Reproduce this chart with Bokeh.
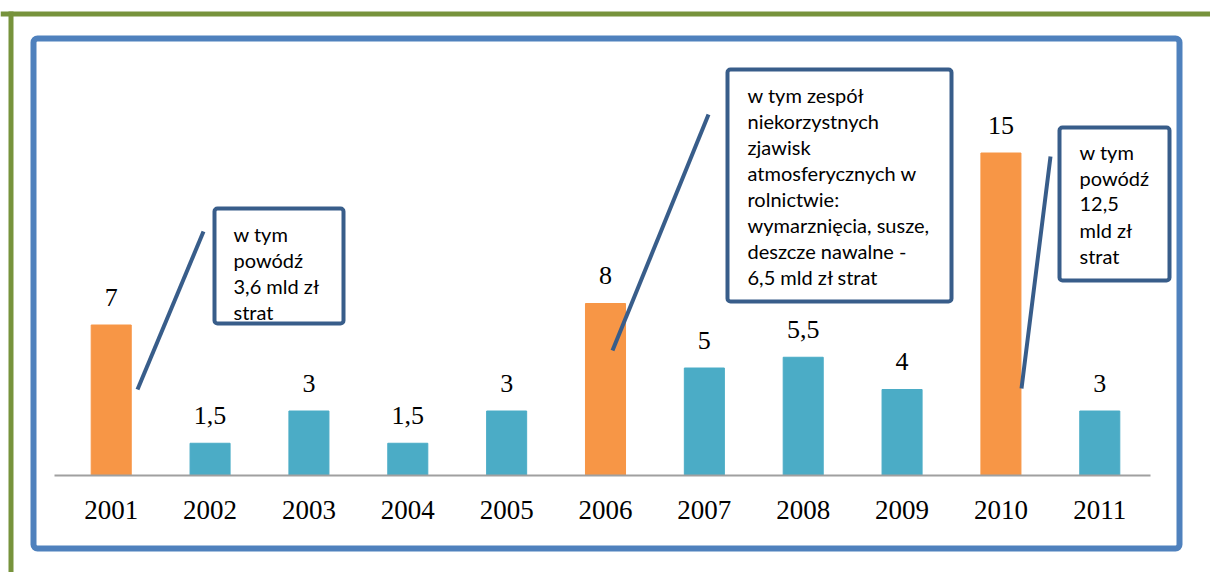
from bokeh.plotting import figure
from bokeh.models import FactorRange, Range1d, BoxAnnotation, Label, ColumnDataSource
from bokeh.embed import file_html
from bokeh.resources import INLINE

# ---- data ----
years = ["2001", "2002", "2003", "2004", "2005", "2006", "2007", "2008", "2009", "2010", "2011"]
losses = [7, 1.5, 3, 1.5, 3, 8, 5, 5.5, 4, 15, 3]
loss_labels = ["7", "1,5", "3", "1,5", "3", "8", "5", "5,5", "4", "15", "3"]
flood_years = ["2001", "2006", "2010"]
callout_1 = [" w tym", "powódź", "3,6 mld zł", "strat"]
callout_2 = ["w tym  zespół", "niekorzystnych", "zjawisk", "atmosferycznych w",
             "rolnictwie:", "wymarznięcia, susze,", "deszcze nawalne -", "6,5 mld zł strat"]
callout_3 = ["w tym", "powódź", "12,5", "mld zł", "strat"]

# ---- style / layout ----
ORANGE = "#f79646"
TEAL = "#4bacc6"
FRAME_BLUE = "#4f81bd"
CALLOUT_BLUE = "#385d8a"
GREEN = "#77933c"

W, H = 1210, 572
BASELINE = 475              # canvas px of the value-0 line
PAD = 0.62                  # category padding
PX_UNIT = 21.5              # px per 1 mld zł
UNIT_PX_X = W / (len(years) + 2 * PAD)


def sx(px):
    """canvas pixel x -> synthetic categorical coordinate"""
    return -PAD + px / UNIT_PX_X


def sy(py):
    """canvas pixel y -> data y"""
    return (BASELINE - py) / PX_UNIT


colors = [ORANGE if y in flood_years else TEAL for y in years]
src = ColumnDataSource(dict(year=years, loss=losses, label=loss_labels, color=colors))

p = figure(width=W, height=H,
           x_range=FactorRange(factors=years, range_padding=PAD, range_padding_units="absolute"),
           y_range=Range1d(sy(H), sy(0)),
           y_axis_type=None, output_backend="svg", toolbar_location=None,
           min_border=0)
p.outline_line_color = None
p.grid.visible = False
p.background_fill_color = "white"
p.border_fill_color = "white"

# decorative frames
p.add_layout(BoxAnnotation(left=sx(0), right=sx(W), top=sy(11), bottom=sy(16),
                           fill_color=GREEN, fill_alpha=1, line_color=None, level="underlay"))
p.add_layout(BoxAnnotation(left=sx(8), right=sx(13), top=sy(11), bottom=sy(H),
                           fill_color=GREEN, fill_alpha=1, line_color=None, level="underlay"))
p.add_layout(BoxAnnotation(left=sx(33), right=sx(1179), top=sy(38), bottom=sy(548),
                           fill_alpha=0, line_color=FRAME_BLUE, line_width=6, line_alpha=1,
                           border_radius=4, level="underlay"))

# bars
p.vbar(x="year", top="loss", width=0.405, color="color", source=src)
p.text(x="year", y="loss", text="label", source=src, y_offset=-28,
       text_align="center", text_baseline="alphabetic",
       text_font={"value": "Liberation Serif"}, text_font_size="26px", text_color="black")

# x axis, drawn inside the frame at value 0
ax = p.xaxis[0]
ax.fixed_location = 0
ax.bounds = (sx(54), sx(1150))
ax.axis_line_color = "#a0a0a0"
ax.axis_line_width = 2
ax.major_tick_line_color = None
ax.minor_tick_line_color = None
ax.major_tick_in = 0
ax.major_tick_out = 0
ax.major_label_standoff = 25
ax.major_label_text_font = "Liberation Serif"
ax.major_label_text_font_size = "27px"
ax.major_label_text_color = "black"

# callouts
def callout(box, line, text_x, first_base, lines):
    l, t, r, b = box
    p.add_layout(BoxAnnotation(left=sx(l), right=sx(r), top=sy(t), bottom=sy(b),
                               fill_color="white", fill_alpha=1, line_color=CALLOUT_BLUE,
                               line_width=4, line_alpha=1, border_radius=3))
    (x0, y0), (x1, y1) = line
    p.segment(x0=[sx(x0)], y0=[sy(y0)], x1=[sx(x1)], y1=[sy(y1)],
              line_color=CALLOUT_BLUE, line_width=4)
    for k, s in enumerate(lines):
        p.add_layout(Label(x=sx(text_x), y=sy(first_base + 26 * k), text=s,
                           text_font="Lato", text_font_size="20px", text_color="black",
                           text_baseline="alphabetic", text_align="left"))

callout((214, 208, 343, 323), ((203, 231), (137, 389)), 233, 233, callout_1)
callout((727, 69, 951, 301), ((708, 114), (612, 350)), 747, 94, callout_2)
callout((1059, 127, 1169, 280), ((1050, 156), (1021, 388)), 1079, 151, callout_3)

open("out.html", "w").write(file_html(p, INLINE))
